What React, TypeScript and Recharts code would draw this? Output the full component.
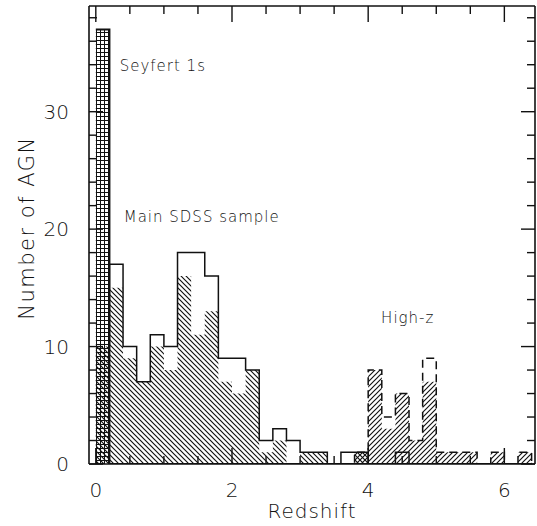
import { Area, ComposedChart, Label, ReferenceDot, XAxis, YAxis } from "recharts";

// left edges of the 0.2-wide redshift bins (last entry closes the final bin)
const binStart = [
    0, 0.2, 0.4, 0.6, 0.8, 1.0, 1.2, 1.4, 1.6, 1.8, 2.0, 2.2, 2.4, 2.6, 2.8, 3.0, 3.2,
    3.4, 3.6, 3.8, 4.0, 4.2, 4.4, 4.6, 4.8, 5.0, 5.2, 5.4, 5.6, 5.8, 6.0, 6.2, 6.4,
];
const seyfert = [37, 0, 0, 0, 0, 0, 0, 0, 0, 0, 0, 0, 0, 0, 0, 0, 0, 0, 0, 0, 0, 0, 0, 0, 0, 0, 0, 0, 0, 0, 0, 0, 0];
const mainTotal = [10, 17, 10, 7, 11, 10, 18, 18, 16, 9, 9, 8, 2, 3, 2, 1, 1, 0, 1, 1, 0, 0, 1, 0, 0, 0, 0, 0, 0, 0, 0, 0, 0];
const mainHatched = [10, 15, 9, 7, 10, 8, 16, 11, 13, 7, 6, 8, 1, 2, 0, 1, 1, 0, 0, 1, 0, 0, 0, 0, 0, 0, 0, 0, 0, 0, 0, 0, 0];
const highzTotal = [0, 0, 0, 0, 0, 0, 0, 0, 0, 0, 0, 0, 0, 0, 0, 0, 0, 0, 0, 1, 8, 4, 6, 2, 9, 1, 1, 1, 0, 1, 0, 1, 0];
const highzHatched = [0, 0, 0, 0, 0, 0, 0, 0, 0, 0, 0, 0, 0, 0, 0, 0, 0, 0, 0, 1, 8, 3, 6, 2, 7, 1, 1, 1, 0, 1, 0, 1, 0];

const xTicks = [0, 0.5, 1, 1.5, 2, 2.5, 3, 3.5, 4, 4.5, 5, 5.5, 6];
const xTickLabels = [0, 2, 4, 6];
const yTicks = [0, 2, 4, 6, 8, 10, 12, 14, 16, 18, 20, 22, 24, 26, 28, 30, 32, 34, 36, 38];
const yTickLabels = [0, 10, 20, 30];

const data = binStart.map((z, i) => ({
    z,
    seyfert: seyfert[i],
    mainTotal: mainTotal[i],
    mainHatched: mainHatched[i],
    highzTotal: highzTotal[i],
    highzHatched: highzHatched[i],
}));

const FONT = '"DejaVu Sans", "Liberation Sans", sans-serif';
const WEIGHT = 200;
const INK = "#111";
const TEXT = "#111";

const BottomTick = (p: any) => {
    const major = xTickLabels.includes(p.payload.value);
    return (
        <g>
            <line x1={p.x} x2={p.x} y1={p.y} y2={p.y - (major ? 16 : 8)} stroke={INK} strokeWidth={1.4} />
            {major && (
                <text x={p.x} y={p.y + 33} textAnchor="middle" fontFamily={FONT} fontWeight={WEIGHT} fontSize={20} fill={TEXT}>
                    {p.payload.value}
                </text>
            )}
        </g>
    );
};

const TopTick = (p: any) => {
    const major = xTickLabels.includes(p.payload.value);
    return <line x1={p.x} x2={p.x} y1={p.y} y2={p.y + (major ? 16 : 8)} stroke={INK} strokeWidth={1.4} />;
};

const LeftTick = (p: any) => {
    const major = yTickLabels.includes(p.payload.value);
    return (
        <g>
            <line x1={p.x} x2={p.x + (major ? 14 : 8)} y1={p.y} y2={p.y} stroke={INK} strokeWidth={1.4} />
            {major && (
                <text x={p.x - 20} y={p.y + 7} textAnchor="end" fontFamily={FONT} fontWeight={WEIGHT} fontSize={20} fill={TEXT}>
                    {p.payload.value}
                </text>
            )}
        </g>
    );
};

const RightTick = (p: any) => {
    const major = yTickLabels.includes(p.payload.value);
    return <line x1={p.x} x2={p.x - (major ? 14 : 8)} y1={p.y} y2={p.y} stroke={INK} strokeWidth={1.4} />;
};

const noteStyle = { fill: TEXT, fontSize: 15, fontFamily: FONT, fontWeight: WEIGHT, letterSpacing: 1 };

export default function App() {
    return (
        <div style={{ position: "absolute", left: 0, top: 0, background: "#fff" }}>
            <ComposedChart width={537} height={526} data={data} margin={{ top: 5, right: 1, bottom: 0, left: 0 }}>
                <defs>
                    <pattern id="grid" patternUnits="userSpaceOnUse" width={4} height={4}>
                        <rect width={4} height={4} fill="#fff" />
                        <path d="M0,0.5 L4,0.5 M0.5,0 L0.5,4" stroke={INK} strokeWidth={1} />
                    </pattern>
                    <pattern id="back" patternUnits="userSpaceOnUse" width={5} height={5}>
                        <path d="M0,0 L5,5 M-1,4 L1,6 M4,-1 L6,1" stroke={INK} strokeWidth={1.15} />
                    </pattern>
                    <pattern id="fwd" patternUnits="userSpaceOnUse" width={5} height={5}>
                        <path d="M0,5 L5,0 M-1,1 L1,-1 M4,6 L6,4" stroke={INK} strokeWidth={1.15} />
                    </pattern>
                </defs>

                <XAxis
                    dataKey="z"
                    type="number"
                    domain={[-0.1, 6.45]}
                    allowDataOverflow
                    ticks={xTicks}
                    interval={0}
                    tickSize={0}
                    tickMargin={0}
                    tick={<BottomTick />}
                    height={62}
                    axisLine={{ stroke: INK, strokeWidth: 1.6 }}
                >
                    <Label
                        content={(p: any) => (
                            <text
                                x={p.viewBox.x + p.viewBox.width / 2}
                                y={p.viewBox.y + 54}
                                textAnchor="middle"
                                fontFamily={FONT}
                                fontWeight={WEIGHT}
                                fontSize={20}
                                letterSpacing={1}
                                fill={TEXT}
                            >
                                Redshift
                            </text>
                        )}
                    />
                </XAxis>
                <XAxis
                    xAxisId="top"
                    orientation="top"
                    dataKey="z"
                    type="number"
                    domain={[-0.1, 6.45]}
                    allowDataOverflow
                    ticks={xTicks}
                    interval={0}
                    tickSize={0}
                    tickMargin={0}
                    tick={<TopTick />}
                    height={1}
                    axisLine={{ stroke: INK, strokeWidth: 1.6 }}
                />
                <YAxis
                    type="number"
                    domain={[0, 39]}
                    allowDataOverflow
                    ticks={yTicks}
                    interval={0}
                    tickSize={0}
                    tickMargin={0}
                    tick={<LeftTick />}
                    width={89}
                    axisLine={{ stroke: INK, strokeWidth: 1.6 }}
                >
                    <Label
                        content={(p: any) => {
                            const cx = p.viewBox.x + 27;
                            const cy = p.viewBox.y + p.viewBox.height / 2 - 7;
                            return (
                                <text
                                    x={cx}
                                    y={cy}
                                    transform={`rotate(-90 ${cx} ${cy})`}
                                    textAnchor="middle"
                                    dominantBaseline="central"
                                    fontFamily={FONT}
                                    fontWeight={WEIGHT}
                                    fontSize={21}
                                    letterSpacing={1.5}
                                    fill={TEXT}
                                >
                                    Number of AGN
                                </text>
                            );
                        }}
                    />
                </YAxis>
                <YAxis
                    yAxisId="right"
                    orientation="right"
                    type="number"
                    domain={[0, 39]}
                    allowDataOverflow
                    ticks={yTicks}
                    interval={0}
                    tickSize={0}
                    tickMargin={0}
                    tick={<RightTick />}
                    width={1}
                    axisLine={{ stroke: INK, strokeWidth: 1.6 }}
                />

                <Area type="stepAfter" dataKey="mainTotal" fill="none" stroke={INK} strokeWidth={1.5} dot={false} activeDot={false} isAnimationActive={false} />
                <Area type="stepAfter" dataKey="seyfert" fill="url(#grid)" fillOpacity={1} stroke={INK} strokeWidth={2} dot={false} activeDot={false} isAnimationActive={false} />
                <Area type="stepAfter" dataKey="mainHatched" fill="url(#back)" fillOpacity={1} stroke="none" dot={false} activeDot={false} isAnimationActive={false} />
                <Area type="stepAfter" dataKey="highzHatched" fill="url(#fwd)" fillOpacity={1} stroke="none" dot={false} activeDot={false} isAnimationActive={false} />
                <Area type="stepAfter" dataKey="highzTotal" fill="none" stroke={INK} strokeWidth={1.5} strokeDasharray="8 5" dot={false} activeDot={false} isAnimationActive={false} />

                <ReferenceDot x={0.35} y={33.9} r={0} fill="none" stroke="none" label={{ value: "Seyfert 1s", position: "right", offset: 0, ...noteStyle }} />
                <ReferenceDot x={0.41} y={21.1} r={0} fill="none" stroke="none" label={{ value: "Main SDSS sample", position: "right", offset: 0, ...noteStyle }} />
                <ReferenceDot x={4.19} y={12.5} r={0} fill="none" stroke="none" label={{ value: "High-z", position: "right", offset: 0, ...noteStyle }} />
            </ComposedChart>
        </div>
    );
}
